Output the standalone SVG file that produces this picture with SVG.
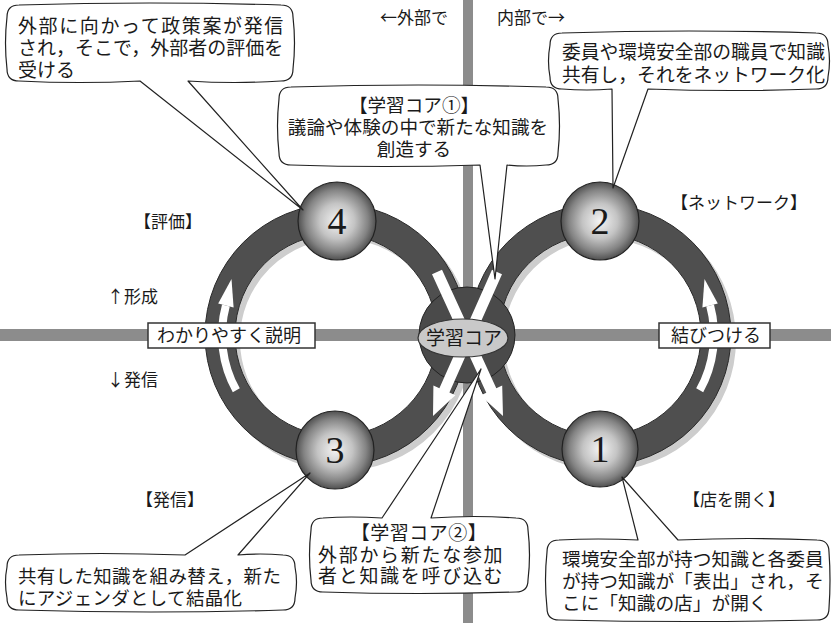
<svg xmlns="http://www.w3.org/2000/svg" width="831" height="623" viewBox="0 0 831 623">
<defs>
<radialGradient id="sph" cx="50%" cy="50%" r="50%">
<stop offset="0" stop-color="#f4f4f4"/>
<stop offset="0.45" stop-color="#c4c4c4"/>
<stop offset="0.8" stop-color="#838383"/>
<stop offset="1" stop-color="#505050"/>
</radialGradient>
</defs>
<style>
.jp{font-family:'Liberation Sans','Noto Sans CJK JP','Noto Sans CJK SC',sans-serif;fill:#1a1a1a}
.lbl{font-family:'Noto Sans CJK JP','Noto Sans CJK SC',sans-serif;font-size:17px}
.bub{fill:#fff;stroke:#222;stroke-width:1.2;stroke-linejoin:round}
.shadow{fill:none;stroke:#cdcdcd;stroke-width:30}
.ring{fill:none;stroke:#4f4f4f;stroke-width:30}
.edge{fill:none;stroke:#2a2a2a;stroke-width:1}
.bar{fill:#8c8c8c}
.sphere{fill:url(#sph);stroke:#222;stroke-width:1.2}
.num{font-family:'Liberation Serif','DejaVu Serif',serif;font-size:38px;fill:#1a1a1a;text-anchor:middle}
.wa{fill:#fff}
.box{fill:#fff;stroke:#333;stroke-width:1.5}
</style>
<rect width="831" height="623" fill="#fff"/>

<g id="rings">
<circle cx="341" cy="340" r="116" class="shadow"/>
<circle cx="605" cy="340" r="116" class="shadow"/>
<circle cx="336" cy="335" r="116" class="ring"/>
<circle cx="600" cy="335" r="116" class="ring"/>
<circle cx="336" cy="335" r="131" class="edge"/>
<circle cx="336" cy="335" r="101" class="edge"/>
<circle cx="600" cy="335" r="131" class="edge"/>
<circle cx="600" cy="335" r="101" class="edge"/>
</g>

<g id="connectors">
<g id="ring-arrows">
<path d="M236.3,390.3 A114,114 0 0 1 225.9,305.5" fill="none" stroke="#fff" stroke-width="8"/>
<polygon class="wa" points="233.6,307.6 231.5,279 218.2,303.4"/>
<path d="M699.7,390.3 A114,114 0 0 0 710.1,305.5" fill="none" stroke="#fff" stroke-width="8"/>
<polygon class="wa" points="702.4,307.6 704.5,279 717.8,303.4"/>
</g>
</g>

<g id="axes">
<rect class="bar" x="0" y="329" width="831" height="12"/>
<rect class="bar" x="463" y="0" width="10" height="623"/>
</g>

<g id="core">
<circle cx="467" cy="335" r="48" fill="#4a4a4a" stroke="#222" stroke-width="1"/>
<g id="cross-arrows">
<polygon class="wa" points="442,269.7 496.3,388.2 502.2,385.5 503,416 480.4,395.5 486.3,392.8 432,274.3"/>
<polygon class="wa" points="492,269.8 502,274.2 449.4,392.6 455.4,395.3 433,416 433.4,385.5 439.4,388.2"/>
</g>
<ellipse cx="463" cy="338" rx="45" ry="19" fill="#c9c9c9" stroke="#333" stroke-width="1.2"/>
<text class="jp" x="464" y="345" font-size="19" text-anchor="middle">学習コア</text>
</g>

<g id="n4"><circle class="sphere" cx="337" cy="221" r="39"/><text class="num" x="337" y="234">4</text></g>
<g id="n2"><circle class="sphere" cx="600" cy="221" r="39"/><text class="num" x="600" y="234">2</text></g>
<g id="n3"><circle class="sphere" cx="335" cy="450" r="39"/><text class="num" x="335" y="463">3</text></g>
<g id="n1"><circle class="sphere" cx="600" cy="449" r="38"/><text class="num" x="600" y="462">1</text></g>

<g id="box-left">
<rect class="box" x="148" y="323" width="167" height="25"/>
<text class="jp" x="229" y="342" font-size="18" text-anchor="middle">わかりやすく説明</text>
</g>
<g id="box-right">
<rect class="box" x="659" y="323" width="111" height="25"/>
<text class="jp" x="716" y="342" font-size="18" text-anchor="middle">結びつける</text>
</g>

<g id="labels" class="lbl" fill="#1a1a1a">
<text x="448" y="24" text-anchor="end">←外部で</text>
<text x="497" y="24">内部で→</text>
<text x="202" y="228" text-anchor="end">【評価】</text>
<text x="671" y="209">【ネットワーク】</text>
<text x="107" y="303">↑形成</text>
<text x="107" y="386">↓発信</text>
<text x="136" y="506">【発信】</text>
<text x="683" y="506">【店を開く】</text>
</g>

<g id="callout-tl">
<path class="bub" d="M19,5 Q150,1 281,5 Q293,5 293,17 Q296,43 293,69 Q293,81 281,81 Q235,84 188,81 L303,210 L140,81 Q80,84 19,81 Q7,81 7,69 Q4,43 7,17 Q7,5 19,5 Z"/>
<text class="jp" font-size="19"><tspan x="18" y="33" letter-spacing="1.6">外部に向かって政策案が発信</tspan><tspan x="18" y="55">され，そこで，外部者の評価を</tspan><tspan x="18" y="77">受ける</tspan></text>
</g>

<g id="callout-tr">
<path class="bub" d="M562,33 Q689,29 816,33 Q828,33 828,45 Q831,61 828,77 Q828,89 816,89 Q732,92 648,89 L613,188 L612,89 Q587,91 562,89 Q550,89 550,77 Q547,61 550,45 Q550,33 562,33 Z"/>
<text class="jp" font-size="18.8"><tspan x="562" y="59">委員や環境安全部の職員で知識</tspan><tspan x="562" y="82">共有し，それをネットワーク化</tspan></text>
</g>

<g id="callout-core1">
<path class="bub" d="M291,87 Q418,83 546,87 Q558,87 558,99 Q561,126 558,153 Q558,165 546,165 Q527,167 507,165 L495,279 L480,165 Q385,168 291,165 Q279,165 279,153 Q276,126 279,99 Q279,87 291,87 Z"/>
<text class="jp" font-size="18.6" text-anchor="middle"><tspan x="414" y="112">【学習コア①】</tspan><tspan x="418" y="134">議論や体験の中で新たな知識を</tspan><tspan x="414" y="156">創造する</tspan></text>
</g>

<g id="callout-bl">
<path class="bub" d="M19,555 Q100,552 185,555 L310,473 L238,555 Q260,553 283,555 Q295,555 295,567 Q298,582 295,598 Q295,610 283,610 Q151,614 19,610 Q7,610 7,598 Q4,582 7,567 Q7,555 19,555 Z"/>
<text class="jp" font-size="18.5"><tspan x="18" y="583" letter-spacing="0.3">共有した知識を組み替え，新た</tspan><tspan x="18" y="604.5" letter-spacing="0.3">にアジェンダとして結晶化</tspan></text>
</g>

<g id="callout-core2">
<path class="bub" d="M323,518 Q350,516 382,518 L481,369 L431,518 Q474,515 516,518 Q528,518 528,530 Q531,555 528,580 Q528,592 516,592 Q419,595 323,592 Q311,592 311,580 Q308,555 311,530 Q311,518 323,518 Z"/>
<text class="jp" font-size="19"><tspan x="419" y="540" text-anchor="middle" letter-spacing="0.5">【学習コア②】</tspan><tspan x="318" y="561.5" letter-spacing="1.7">外部から新たな参加</tspan><tspan x="318" y="583" letter-spacing="1.7">者と知識を呼び込む</tspan></text>
</g>

<g id="callout-br">
<path class="bub" d="M559,540 Q598,538 638,540 L622,477 L678,540 Q748,537 817,540 Q829,540 829,552 Q831,580 829,608 Q829,620 817,620 Q688,623 559,620 Q547,620 547,608 Q544,580 547,552 Q547,540 559,540 Z"/>
<text class="jp" font-size="18.7"><tspan x="562" y="566">環境安全部が持つ知識と各委員</tspan><tspan x="562" y="588">が持つ知識が「表出」され，そ</tspan><tspan x="562" y="610">こに「知識の店」が開く</tspan></text>
</g>
</svg>
